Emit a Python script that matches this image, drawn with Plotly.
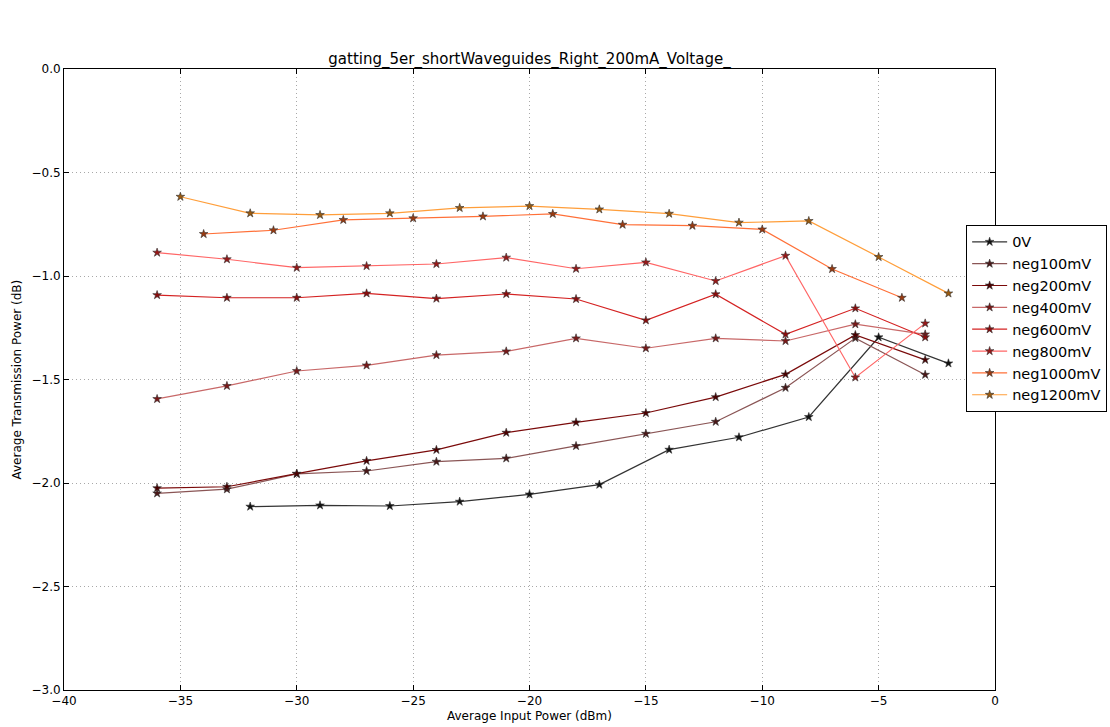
import plotly.graph_objects as go

x_0V = [-32, -29, -26, -23, -20, -17, -14, -11, -8, -5, -2]
y_0V = [-2.114, -2.108, -2.111, -2.09, -2.055, -2.008, -1.839, -1.779, -1.681, -1.296, -1.422]

x_neg100 = [-36, -33, -30, -27, -24, -21, -18, -15, -12, -9, -6, -3]
y_neg100 = [-2.05, -2.03, -1.956, -1.942, -1.897, -1.881, -1.821, -1.762, -1.704, -1.54, -1.30, -1.477]

x_neg200 = [-36, -33, -30, -27, -24, -21, -18, -15, -12, -9, -6, -3]
y_neg200 = [-2.025, -2.018, -1.955, -1.893, -1.84, -1.757, -1.707, -1.662, -1.585, -1.475, -1.285, -1.405]

x_neg400 = [-36, -33, -30, -27, -24, -21, -18, -15, -12, -9, -6, -3]
y_neg400 = [-1.594, -1.531, -1.459, -1.432, -1.382, -1.364, -1.301, -1.349, -1.301, -1.314, -1.233, -1.282]

x_neg600 = [-36, -33, -30, -27, -24, -21, -18, -15, -12, -9, -6, -3]
y_neg600 = [-1.092, -1.105, -1.105, -1.084, -1.109, -1.087, -1.111, -1.214, -1.088, -1.282, -1.156, -1.296]

x_neg800 = [-36, -33, -30, -27, -24, -21, -18, -15, -12, -9, -6, -3]
y_neg800 = [-0.887, -0.919, -0.96, -0.952, -0.942, -0.911, -0.965, -0.934, -1.024, -0.902, -1.49, -1.229]

x_neg1000 = [-34, -31, -28, -25, -22, -19, -16, -13, -10, -7, -4]
y_neg1000 = [-0.797, -0.779, -0.729, -0.721, -0.712, -0.700, -0.752, -0.757, -0.775, -0.966, -1.105]

x_neg1200 = [-35, -32, -29, -26, -23, -20, -17, -14, -11, -8, -5, -2]
y_neg1200 = [-0.617, -0.697, -0.705, -0.697, -0.671, -0.662, -0.678, -0.699, -0.742, -0.734, -0.908, -1.084]

names = ["0V", "neg100mV", "neg200mV", "neg400mV", "neg600mV", "neg800mV", "neg1000mV", "neg1200mV"]
xs = [x_0V, x_neg100, x_neg200, x_neg400, x_neg600, x_neg800, x_neg1000, x_neg1200]
ys = [y_0V, y_neg100, y_neg200, y_neg400, y_neg600, y_neg800, y_neg1000, y_neg1200]
line_colors = ["#333333", "#8a5555", "#7a0a0a", "#c86868", "#d42222", "#ff6666", "#ff7038", "#ff9e3a"]
marker_colors = ["#111111", "#4a1818", "#4a0000", "#7a1818", "#8a0c0c", "#981818", "#9a3a10", "#9a5a10"]

fig = go.Figure()
for n, x, y, lc, mc in zip(names, xs, ys, line_colors, marker_colors):
    fig.add_trace(go.Scatter(
        x=x, y=y, name=n, mode="lines+markers",
        line=dict(color=lc, width=1.2),
        marker=dict(symbol="star", size=6.5, color=mc, line=dict(color="#333333", width=0.6)),
    ))

axis_common = dict(
    showline=True, linecolor="black", linewidth=1, mirror="ticks",
    ticks="inside", ticklen=5, tickcolor="black",
    showgrid=True, gridcolor="#a8a8a8", griddash="1px,3px", gridwidth=1,
    zeroline=False, tickfont=dict(family="DejaVu Sans", size=12, color="black"),
)

fig.update_layout(
    width=1110, height=727,
    margin=dict(l=64, r=115, t=69, b=37, autoexpand=False),
    paper_bgcolor="white", plot_bgcolor="white",
    font=dict(family="DejaVu Sans", color="black"),
    title=dict(text="gatting_5er_shortWaveguides_Right_200mA_Voltage_", x=0.477, xanchor="center",
               y=1 - 59 / 727, yanchor="middle", font=dict(size=15, family="DejaVu Sans", color="black")),
    xaxis=dict(range=[-40, 0], tickmode="array", tickvals=[-40, -35, -30, -25, -20, -15, -10, -5, 0],
               ticktext=["\u221240", "\u221235", "\u221230", "\u221225", "\u221220", "\u221215", "\u221210", "\u22125", "0"],
               **axis_common),
    yaxis=dict(range=[-3.0, 0.0], tickmode="array", tickvals=[-3.0, -2.5, -2.0, -1.5, -1.0, -0.5, 0.0],
               ticktext=["\u22123.0", "\u22122.5", "\u22122.0", "\u22121.5", "\u22121.0", "\u22120.5", "0.0"],
               **axis_common),
    legend=dict(x=0.969, xanchor="left", y=0.749, yanchor="top", bgcolor="white",
                bordercolor="black", borderwidth=1, font=dict(size=14.5, family="DejaVu Sans", color="black"),
                tracegroupgap=0, itemwidth=35),
    showlegend=True,
)

fig.add_annotation(text="Average Input Power (dBm)", xref="paper", yref="paper", x=0.5, y=0,
                   yshift=-26, xanchor="center", yanchor="middle", showarrow=False,
                   font=dict(size=12, family="DejaVu Sans", color="black"))
fig.add_annotation(text="Average Transmission Power (dB)", xref="paper", yref="paper", x=0, y=0.5,
                   xshift=-48, xanchor="center", yanchor="middle", textangle=-90, showarrow=False,
                   font=dict(size=12, family="DejaVu Sans", color="black"))

fig.write_html("out.html")
